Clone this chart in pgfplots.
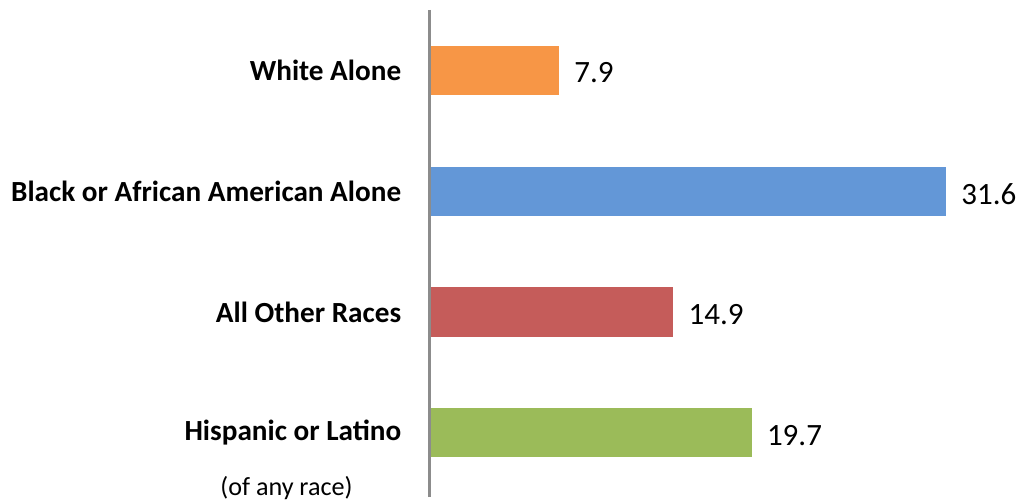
\documentclass[border=0pt]{standalone}
\usepackage{pgfplots}
\pgfplotsset{compat=1.18}
\usepackage{fontspec}
\setmainfont{Carlito}
\definecolor{cOrange}{HTML}{F79646}
\definecolor{cBlue}{HTML}{6397D7}
\definecolor{cRed}{HTML}{C55C5A}
\definecolor{cGreen}{HTML}{9BBB59}
\definecolor{axisgray}{HTML}{8C8C8C}
\begin{document}
\begin{tikzpicture}
\begin{axis}[name=ax, at={(0pt,0pt)}, anchor=south west,
  scale only axis, width=445.5pt, height=365.25pt,
  xmin=0, xmax=36.37, ymin=-0.496, ymax=3.529, y dir=reverse,
  axis x line=none, axis y line*=left,
  y axis line style={draw=axisgray, line width=2.25pt},
  ytick={0,1,2,3},
  yticklabels={White Alone, Black or African American Alone, All Other Races, Hispanic or Latino},
  major tick length=0pt,
  yticklabel style={font=\fontsize{21.9}{24}\selectfont\bfseries, anchor=east, inner sep=0pt, xshift=-21.4pt},
  xbar, bar width=36.75pt, bar shift=0pt,
  nodes near coords,
  nodes near coords style={font=\fontsize{23.25}{26}\selectfont, anchor=west, inner sep=0pt, xshift=11.25pt, yshift=-2.25pt, text=black},
  /pgf/number format/.cd, fixed, fixed zerofill, precision=1, assume math mode=true, /pgfplots/.cd,
  clip=false]
\addplot[fill=cOrange, draw=none] coordinates {(7.9,0)};
\addplot[fill=cBlue, draw=none] coordinates {(31.6,1)};
\addplot[fill=cRed, draw=none] coordinates {(14.9,2)};
\addplot[fill=cGreen, draw=none] coordinates {(19.7,3)};
\draw[axisgray, line width=2.25pt] (rel axis cs:0,0) -- (rel axis cs:0,1);
\node[font=\fontsize{19.6}{22}\selectfont, xshift=-107.6pt] at (axis cs:0,3.455) {(of any race)};
\end{axis}
\pgfresetboundingbox
\path (-322.5pt,-3.75pt) rectangle (445.5pt,372.75pt);
\end{tikzpicture}
\end{document}
